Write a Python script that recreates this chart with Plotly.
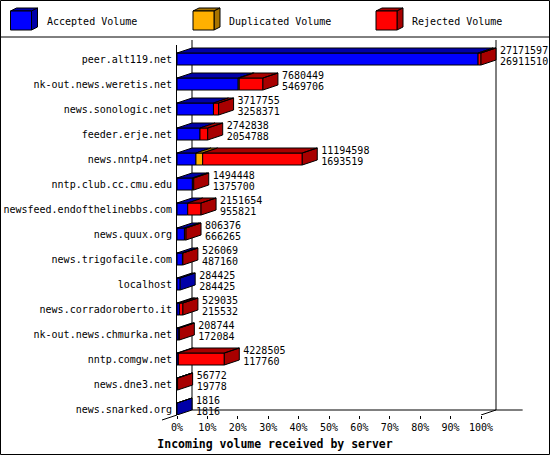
import plotly.graph_objects as go

# ---------------- data ----------------
servers = ["peer.alt119.net", "nk-out.news.weretis.net", "news.sonologic.net",
           "feeder.erje.net", "news.nntp4.net", "nntp.club.cc.cmu.edu",
           "newsfeed.endofthelinebbs.com", "news.quux.org", "news.trigofacile.com",
           "localhost", "news.corradoroberto.it", "nk-out.news.chmurka.net",
           "nntp.comgw.net", "news.dne3.net", "news.snarked.org"]
total_volume = [27171597, 7680449, 3717755, 2742838, 11194598, 1494448, 2151654,
                806376, 526069, 284425, 529035, 208744, 4228505, 56772, 1816]
accepted_volume = [26911510, 5469706, 3258371, 2054788, 1693519, 1375700, 955821,
                   666265, 487160, 284425, 215532, 172084, 117760, 19778, 1816]
duplicated_volume = [0, 90000, 0, 0, 600000, 0, 0, 0, 0, 0, 0, 0, 0, 0, 0]
rejected_volume = [260087, 2120743, 459384, 688050, 8901079, 118748, 1195833,
                   140111, 38909, 0, 313503, 36660, 4110745, 36994, 0]
x_tick_values = [0, 10, 20, 30, 40, 50, 60, 70, 80, 90, 100]
x_tick_labels = ["0%", "10%", "20%", "30%", "40%", "50%", "60%", "70%", "80%", "90%", "100%"]
series_names = ["Accepted Volume", "Duplicated Volume", "Rejected Volume"]

# ---------------- style ----------------
W, H = 550, 455
PLOT_L, PLOT_R, PLOT_T, PLOT_B = 177, 548, 45, 415
PX_PER_PCT = 3.04
ROW_PX = 25.0
X_MAX = (PLOT_R - PLOT_L) / PX_PER_PCT
Y_TOP = -0.56
Y_BOT = Y_TOP + (PLOT_B - PLOT_T) / ROW_PX
DX = 15 / PX_PER_PCT          # 3-D depth in x units
DY = -5 / ROW_PX              # 3-D depth in y units (upwards)
BAR_W = 12 / ROW_PX
FONT = "DejaVu Sans Mono"
front_colors = ["#0000FF", "#FFB000", "#FF0000"]
dark_colors = ["#0000A8", "#A87400", "#A80000"]


def paper_x(px):
    return (px - PLOT_L) / (PLOT_R - PLOT_L)


def paper_y(py):
    return (PLOT_B - py) / (PLOT_B - PLOT_T)


max_total = max(total_volume)
rows = list(range(len(servers)))
series = [accepted_volume, duplicated_volume, rejected_volume]
pct = [[v / max_total * 100 for v in s] for s in series]

fig = go.Figure()

# front faces
bases = [0.0] * len(rows)
for k in range(3):
    xs, ys, bs = [], [], []
    for i in rows:
        if pct[k][i] > 0:
            xs.append(pct[k][i]); ys.append(i); bs.append(bases[i])
    fig.add_trace(go.Bar(x=xs, y=ys, base=bs, orientation="h", width=BAR_W,
                         marker=dict(color=front_colors[k], line=dict(color="black", width=1)),
                         showlegend=False, hoverinfo="skip"))
    for i in rows:
        bases[i] += pct[k][i]

# top and side faces (3-D)
polys = {0: ([], []), 1: ([], []), 2: ([], [])}
for i in rows:
    yt = i - BAR_W / 2
    yb = i + BAR_W / 2
    start = 0.0
    last = None
    for k in range(3):
        v = pct[k][i]
        if v <= 0:
            continue
        x0, x1 = start, start + v
        px_, py_ = polys[k]
        px_ += [x0, x1, x1 + DX, x0 + DX, x0, None]
        py_ += [yt, yt, yt + DY, yt + DY, yt, None]
        start = x1
        last = k
    px_, py_ = polys[last]
    px_ += [start, start, start + DX, start + DX, start, None]
    py_ += [yt, yb, yb + DY, yt + DY, yt, None]
for k in range(3):
    fig.add_trace(go.Scatter(x=polys[k][0], y=polys[k][1], mode="lines", fill="toself",
                             fillcolor=dark_colors[k], line=dict(color="black", width=1),
                             showlegend=False, hoverinfo="skip"))

# value labels
ends = [sum(pct[k][i] for k in range(3)) + DX + 4 / PX_PER_PCT for i in rows]
fig.add_trace(go.Scatter(x=ends, y=[i - 7.5 / ROW_PX for i in rows], mode="text",
                         text=[str(v) for v in total_volume], textposition="middle right",
                         textfont=dict(family=FONT, size=10, color="black"),
                         cliponaxis=False, showlegend=False, hoverinfo="skip"))
fig.add_trace(go.Scatter(x=ends, y=[i + 3.5 / ROW_PX for i in rows], mode="text",
                         text=[str(v) for v in accepted_volume], textposition="middle right",
                         textfont=dict(family=FONT, size=10, color="black"),
                         cliponaxis=False, showlegend=False, hoverinfo="skip"))

shapes = []
line_k = dict(color="black", width=1)
top_back = paper_y(PLOT_T - 5)
# back walls
shapes.append(dict(type="line", xref="x", yref="paper", x0=DX, x1=DX, y0=top_back,
                   y1=paper_y(PLOT_B - 5), line=line_k, layer="below"))
shapes.append(dict(type="line", xref="x", yref="paper", x0=100 + DX, x1=100 + DX, y0=top_back,
                   y1=paper_y(PLOT_B - 5), line=line_k, layer="below"))
shapes.append(dict(type="line", xref="x", yref="y", x0=DX, x1=113.7, y0=Y_BOT + DY,
                   y1=Y_BOT + DY, line=line_k, layer="below"))
shapes.append(dict(type="line", xref="x", yref="y", x0=100, x1=100 + DX, y0=Y_BOT,
                   y1=Y_BOT + DY, line=line_k, layer="below"))
shapes.append(dict(type="line", xref="paper", yref="paper", x0=paper_x(PLOT_L),
                   x1=paper_x(PLOT_L - 15), y0=paper_y(PLOT_B), y1=paper_y(PLOT_B + 5), line=line_k))
# outer border and legend separator
shapes.append(dict(type="rect", xref="paper", yref="paper", x0=paper_x(0.5), x1=paper_x(W - 0.5),
                   y0=paper_y(H - 0.5), y1=paper_y(0.5), line=line_k))
shapes.append(dict(type="line", xref="paper", yref="paper", x0=paper_x(0), x1=paper_x(W),
                   y0=paper_y(37), y1=paper_y(37), line=line_k))

# legend cubes
annotations = []
legend_x = [10.5, 193, 376]
for k in range(3):
    lx = legend_x[k]
    fx0, fx1, fy0, fy1 = lx, lx + 21, 11, 30
    ddx, ddy = 6, -3
    shapes.append(dict(type="path", xref="paper", yref="paper",
                       path="M {} {} L {} {} L {} {} L {} {} Z".format(
                           paper_x(fx0), paper_y(fy0), paper_x(fx1), paper_y(fy0),
                           paper_x(fx1 + ddx), paper_y(fy0 + ddy), paper_x(fx0 + ddx), paper_y(fy0 + ddy)),
                       fillcolor=dark_colors[k], line=line_k))
    shapes.append(dict(type="path", xref="paper", yref="paper",
                       path="M {} {} L {} {} L {} {} L {} {} Z".format(
                           paper_x(fx1), paper_y(fy0), paper_x(fx1), paper_y(fy1),
                           paper_x(fx1 + ddx), paper_y(fy1 + ddy), paper_x(fx1 + ddx), paper_y(fy0 + ddy)),
                       fillcolor=dark_colors[k], line=line_k))
    shapes.append(dict(type="rect", xref="paper", yref="paper", x0=paper_x(fx0), x1=paper_x(fx1),
                       y0=paper_y(fy1), y1=paper_y(fy0), fillcolor=front_colors[k], line=line_k))
    annotations.append(dict(xref="paper", yref="paper", x=paper_x(lx + 34), y=paper_y(21),
                            xanchor="left", yanchor="middle", showarrow=False,
                            text=series_names[k], font=dict(family=FONT, size=10, color="black")))

fig.update_layout(
    width=W, height=H, autosize=False,
    margin=dict(l=PLOT_L, r=W - PLOT_R, t=PLOT_T, b=H - PLOT_B, pad=0),
    paper_bgcolor="white", plot_bgcolor="white",
    barmode="overlay", showlegend=False,
    shapes=shapes, annotations=annotations,
    title=dict(text="<b>Incoming volume received by server</b>", x=0.5, xref="container",
               xanchor="center", y=(H - 443.5) / H, yref="container", yanchor="middle",
               font=dict(family=FONT, size=11.5, color="black")),
    xaxis=dict(range=[0, X_MAX], tickvals=x_tick_values, ticktext=x_tick_labels,
               ticks="outside", ticklen=3, tickcolor="black", showgrid=False, zeroline=False,
               showline=False, tickfont=dict(family=FONT, size=10, color="black"), fixedrange=True),
    yaxis=dict(range=[Y_BOT, Y_TOP], tickvals=rows, ticktext=servers, ticks="",
               showgrid=False, zeroline=False, showline=True, linecolor="black", linewidth=1,
               ticklabelstandoff=2,
               tickfont=dict(family=FONT, size=10, color="black"), fixedrange=True),
)

fig.write_html("out.html", config={"displayModeBar": False},
               post_script="document.body.style.margin='0';document.body.style.padding='0';")
